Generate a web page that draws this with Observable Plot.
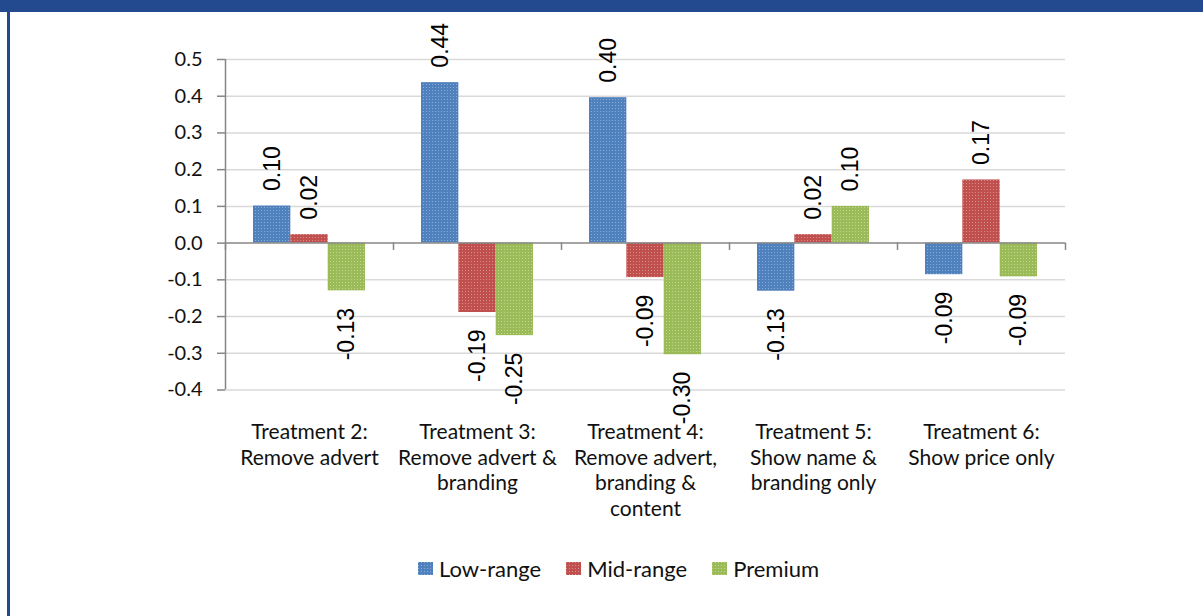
<!DOCTYPE html>
<html>
<head>
<meta charset="utf-8">
<script src="https://cdn.jsdelivr.net/npm/d3@7"></script>
<script src="https://cdn.jsdelivr.net/npm/@observablehq/plot@0.6"></script>
<style>
  html, body { margin: 0; padding: 0; background: #fff; }
  #page { position: relative; width: 1203px; height: 616px; overflow: hidden; background: #fff; }
  #chart { position: absolute; left: 0; top: 0; }
  #banner { position: absolute; left: 0; top: 0; width: 1203px; height: 12px; background: #234a8e; }
  #lborder { position: absolute; left: 7px; top: 0; width: 3px; height: 616px; background: #234a8e; }
  #legend { position: absolute; top: 555px; left: 418px; display: flex; align-items: center;
            font-family: Lato, "Open Sans", sans-serif; font-size: 22px; color: #111; white-space: nowrap; }
  .item { display: flex; align-items: center; margin-right: 25px; }
  .item svg { margin-right: 6px; }
</style>
</head>
<body>
<div id="page">
  <div id="chart"></div>
  <div id="banner"></div>
  <div id="lborder"></div>
  <div id="legend"></div>
</div>
<script>
// ---- data ----
const categoryLabels = [
  "Treatment 2:\nRemove advert",
  "Treatment 3:\nRemove advert &\nbranding",
  "Treatment 4:\nRemove advert,\nbranding &\ncontent",
  "Treatment 5:\nShow name &\nbranding only",
  "Treatment 6:\nShow price only"
];
const series = ["Low-range", "Mid-range", "Premium"];
const lowRange = [0.101, 0.437, 0.396, -0.131, -0.086];
const midRange = [0.023, -0.189, -0.094, 0.023, 0.172];
const premium  = [-0.130, -0.252, -0.304, 0.100, -0.092];
const yTicks = [-0.4, -0.3, -0.2, -0.1, 0.0, 0.1, 0.2, 0.3, 0.4, 0.5];

// ---- styles ----
const baseColors = ["#4f81bd", "#c0504d", "#9bbb59"];
const dotColors  = ["#8bacd9", "#d98c8a", "#c0d68f"];
const patternIds = ["pLow", "pMid", "pPrem"];

// ---- table ----
const valuesBySeries = [lowRange, midRange, premium];
const groupPad = 1 / 6, barW = 2 / 9;
const rows = [];
categoryLabels.forEach((cat, ci) => {
  series.forEach((s, si) => {
    const x1 = ci + groupPad + si * barW;
    rows.push({ci, cat, si, series: s, value: valuesBySeries[si][ci], x1, x2: x1 + barW, xc: x1 + barW / 2});
  });
});

const W = 1203, H = 550;
const valueFont = "'Liberation Sans', Arial, sans-serif";

const plot = Plot.plot({
  width: W,
  height: H,
  marginLeft: 225,
  marginRight: 138,
  marginTop: 59,
  marginBottom: H - 389.5,
  x: {domain: [0, categoryLabels.length], axis: null},
  y: {domain: [-0.4, 0.5], axis: null},
  color: {type: "ordinal", domain: series, range: patternIds.map(id => `url(#${id})`)},
  style: {fontFamily: "Lato, 'Open Sans', sans-serif", fontSize: "20px", color: "#000", background: "transparent"},
  marks: [
    Plot.gridY(yTicks.filter(v => v !== 0), {stroke: "#d9d9d9", strokeOpacity: 1, strokeWidth: 1.5}),
    Plot.rect(rows, {x1: "x1", x2: "x2", y1: 0, y2: "value", fill: "series"}),
    Plot.ruleY([0], {stroke: "#868686", strokeWidth: 1.5}),
    Plot.ruleX([0], {y1: -0.4, y2: 0.5, stroke: "#868686", strokeWidth: 1.5}),
    Plot.ruleX(d3.range(categoryLabels.length + 1), {x: d => d, y1: 0, y2: -0.02, stroke: "#868686", strokeWidth: 1.5}),
    Plot.axisY({ticks: yTicks, tickFormat: d => d.toFixed(1), tickSize: 8, tickPadding: 15,
                stroke: "#868686", strokeWidth: 1.5, fill: "#111", fontSize: 20, label: null}),
    Plot.text(rows.filter(d => d.value >= 0), {x: "xc", y: "value", text: d => d.value.toFixed(2),
                rotate: -90, textAnchor: "start", dy: -15, fontSize: 23, fontFamily: valueFont, fill: "#000"}),
    Plot.text(rows.filter(d => d.value < 0), {x: "xc", y: "value", text: d => d.value.toFixed(2),
                rotate: -90, textAnchor: "end", dy: 17, fontSize: 23, fontFamily: valueFont, fill: "#000"}),
    Plot.text(categoryLabels, {x: (d, i) => i + 0.5, frameAnchor: "bottom", lineAnchor: "top", dy: 31,
                text: d => d, fontSize: 21, lineHeight: 1.22, fill: "#111"})
  ]
});

// patterned fills (Excel-like texture)
const svg = d3.select(plot);
const defs = svg.insert("defs", ":first-child");
patternIds.forEach((id, i) => {
  const p = defs.append("pattern").attr("id", id).attr("patternUnits", "userSpaceOnUse")
    .attr("width", 3).attr("height", 3);
  p.append("rect").attr("width", 3).attr("height", 3).attr("fill", baseColors[i]);
  p.append("rect").attr("width", 1).attr("height", 1).attr("fill", dotColors[i]);
});
document.getElementById("chart").appendChild(plot);

// legend
const legend = d3.select("#legend");
series.forEach((s, i) => {
  const item = legend.append("div").attr("class", "item");
  const sw = item.append("svg").attr("width", 15).attr("height", 13);
  sw.append("rect").attr("width", 15).attr("height", 13).attr("fill", `url(#${patternIds[i]})`);
  item.append("span").text(s);
});
</script>
</body>
</html>
